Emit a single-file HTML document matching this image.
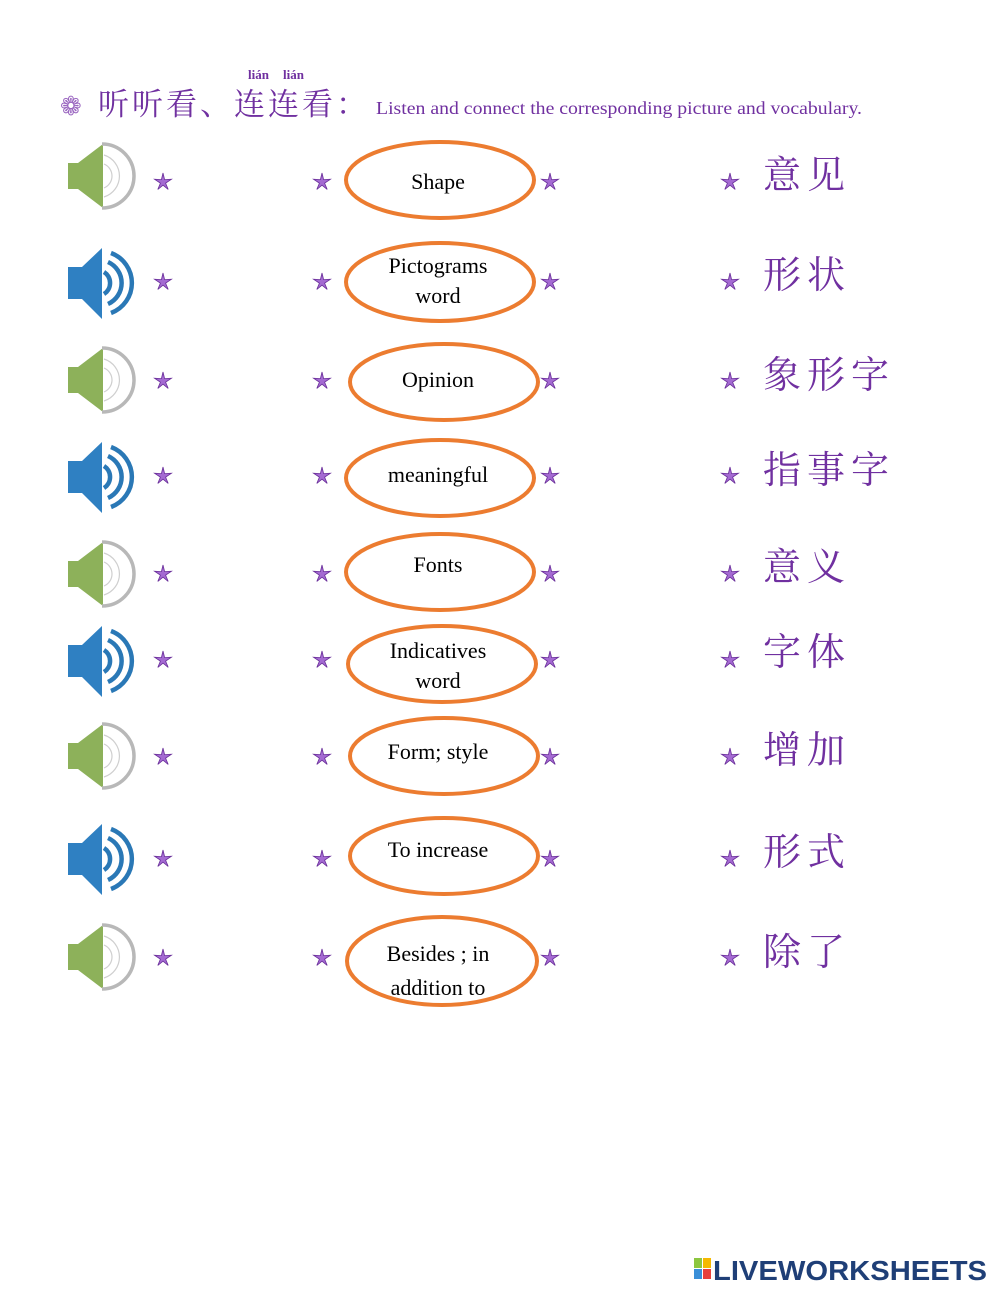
<!DOCTYPE html>
<html><head><meta charset="utf-8"><style>
body{margin:0;background:#fff;}
svg{display:block}
.en{font-family:"Liberation Serif",serif;font-size:22px;fill:#000;text-anchor:middle}
.zh{font-family:"Liberation Serif","Noto Serif CJK SC",serif;font-size:38px;fill:#7030a0;letter-spacing:6px}
</style></head><body>
<svg width="1000" height="1294" viewBox="0 0 1000 1294" xmlns="http://www.w3.org/2000/svg">
<defs>
<g id="gs">
<polygon points="-32,-13 -22,-13 3,-32 3,32 -22,13 -32,13" fill="#8db15a"/>
<path d="M2,-32 A32,32 0 0 1 2,32" fill="none" stroke="#b8b8b8" stroke-width="3.5"/>
<path d="M4,-21 A22,22 0 0 1 4,21" fill="none" stroke="#cfcfcf" stroke-width="1.2"/>
<path d="M4,-12 A13,13 0 0 1 4,12" fill="none" stroke="#cfcfcf" stroke-width="1.2"/>
</g>
<g id="bs">
<polygon points="-32,-16 -18,-16 2,-35 2,36 -18,16 -32,16" fill="#2f80c2"/>
<path d="M4,-11 A13,13 0 0 1 4,11" fill="none" stroke="#2a78b6" stroke-width="4.5"/>
<path d="M8,-21 A23,23 0 0 1 8,21" fill="none" stroke="#2a78b6" stroke-width="4.5"/>
<path d="M11,-30 A32,32 0 0 1 11,30" fill="none" stroke="#2a78b6" stroke-width="4.5"/>
</g>
<polygon id="st" points="0,-9 1.6,-2.4 8.5,-2.8 2.6,1.2 5.2,7.4 0,3.2 -5.2,7.4 -2.6,1.2 -8.5,-2.8 -1.6,-2.4" fill="#a46ad2" stroke="#6a2f9a" stroke-width="0.8"/>
</defs>

<text x="60" y="115" font-family="DejaVu Sans,sans-serif" font-size="26" fill="#9a66c0">❁</text>
<text x="248" y="79" font-family="Liberation Serif,serif" font-size="13" fill="#7030a0" font-weight="bold">lián</text>
<text x="283" y="79" font-family="Liberation Serif,serif" font-size="13" fill="#7030a0" font-weight="bold">lián</text>
<text x="98" y="115" font-family="'Noto Serif CJK SC',serif" font-size="31" fill="#7030a0" letter-spacing="3">听听看、连连看：</text>
<text x="376" y="114" font-family="Liberation Serif,serif" font-size="18" fill="#7030a0" textLength="486" lengthAdjust="spacingAndGlyphs">Listen and connect the corresponding picture and vocabulary.</text>

<use href="#gs" x="100" y="176"/>
<use href="#bs" x="100" y="283"/>
<use href="#gs" x="100" y="380"/>
<use href="#bs" x="100" y="477"/>
<use href="#gs" x="100" y="574"/>
<use href="#bs" x="100" y="661"/>
<use href="#gs" x="100" y="756"/>
<use href="#bs" x="100" y="859"/>
<use href="#gs" x="100" y="957"/>

<g fill="none" stroke="#ec7c30" stroke-width="4">
<ellipse cx="440" cy="180" rx="94" ry="38"/>
<ellipse cx="440" cy="282" rx="94" ry="39"/>
<ellipse cx="444" cy="382" rx="94" ry="38"/>
<ellipse cx="440" cy="478" rx="94" ry="38"/>
<ellipse cx="440" cy="572" rx="94" ry="38"/>
<ellipse cx="442" cy="664" rx="94" ry="38"/>
<ellipse cx="444" cy="756" rx="94" ry="38"/>
<ellipse cx="444" cy="856" rx="94" ry="38"/>
<ellipse cx="442" cy="961" rx="95" ry="44"/>
</g>

<text class="en" x="438" y="189">Shape</text>
<text class="en" x="438" y="273">Pictograms</text>
<text class="en" x="438" y="303">word</text>
<text class="en" x="438" y="387">Opinion</text>
<text class="en" x="438" y="482">meaningful</text>
<text class="en" x="438" y="572">Fonts</text>
<text class="en" x="438" y="658">Indicatives</text>
<text class="en" x="438" y="688">word</text>
<text class="en" x="438" y="759">Form; style</text>
<text class="en" x="438" y="857">To increase</text>
<text class="en" x="438" y="961">Besides ; in</text>
<text class="en" x="438" y="995">addition to</text>

<g>
<use href="#st" x="163" y="182"/><use href="#st" x="322" y="182"/><use href="#st" x="550" y="182"/><use href="#st" x="730" y="182"/>
<use href="#st" x="163" y="282"/><use href="#st" x="322" y="282"/><use href="#st" x="550" y="282"/><use href="#st" x="730" y="282"/>
<use href="#st" x="163" y="381"/><use href="#st" x="322" y="381"/><use href="#st" x="550" y="381"/><use href="#st" x="730" y="381"/>
<use href="#st" x="163" y="476"/><use href="#st" x="322" y="476"/><use href="#st" x="550" y="476"/><use href="#st" x="730" y="476"/>
<use href="#st" x="163" y="574"/><use href="#st" x="322" y="574"/><use href="#st" x="550" y="574"/><use href="#st" x="730" y="574"/>
<use href="#st" x="163" y="660"/><use href="#st" x="322" y="660"/><use href="#st" x="550" y="660"/><use href="#st" x="730" y="660"/>
<use href="#st" x="163" y="757"/><use href="#st" x="322" y="757"/><use href="#st" x="550" y="757"/><use href="#st" x="730" y="757"/>
<use href="#st" x="163" y="859"/><use href="#st" x="322" y="859"/><use href="#st" x="550" y="859"/><use href="#st" x="730" y="859"/>
<use href="#st" x="163" y="958"/><use href="#st" x="322" y="958"/><use href="#st" x="550" y="958"/><use href="#st" x="730" y="958"/>
</g>

<text class="zh" x="763" y="188">意见</text>
<text class="zh" x="763" y="288">形状</text>
<text class="zh" x="763" y="388">象形字</text>
<text class="zh" x="763" y="483">指事字</text>
<text class="zh" x="763" y="580">意义</text>
<text class="zh" x="763" y="665">字体</text>
<text class="zh" x="763" y="763">增加</text>
<text class="zh" x="763" y="865">形式</text>
<text class="zh" x="763" y="965">除了</text>

<rect x="694" y="1258" width="8" height="10" fill="#8cc63f"/>
<rect x="703" y="1258" width="8" height="10" fill="#f5b800"/>
<rect x="694" y="1269" width="8" height="10" fill="#3a8fd8"/>
<rect x="703" y="1269" width="8" height="10" fill="#e8403c"/>
<text x="713" y="1280" font-family="Liberation Sans,sans-serif" font-weight="bold" font-size="28" fill="#1f3f77" textLength="274" lengthAdjust="spacingAndGlyphs">LIVEWORKSHEETS</text>
</svg>
</body></html>
